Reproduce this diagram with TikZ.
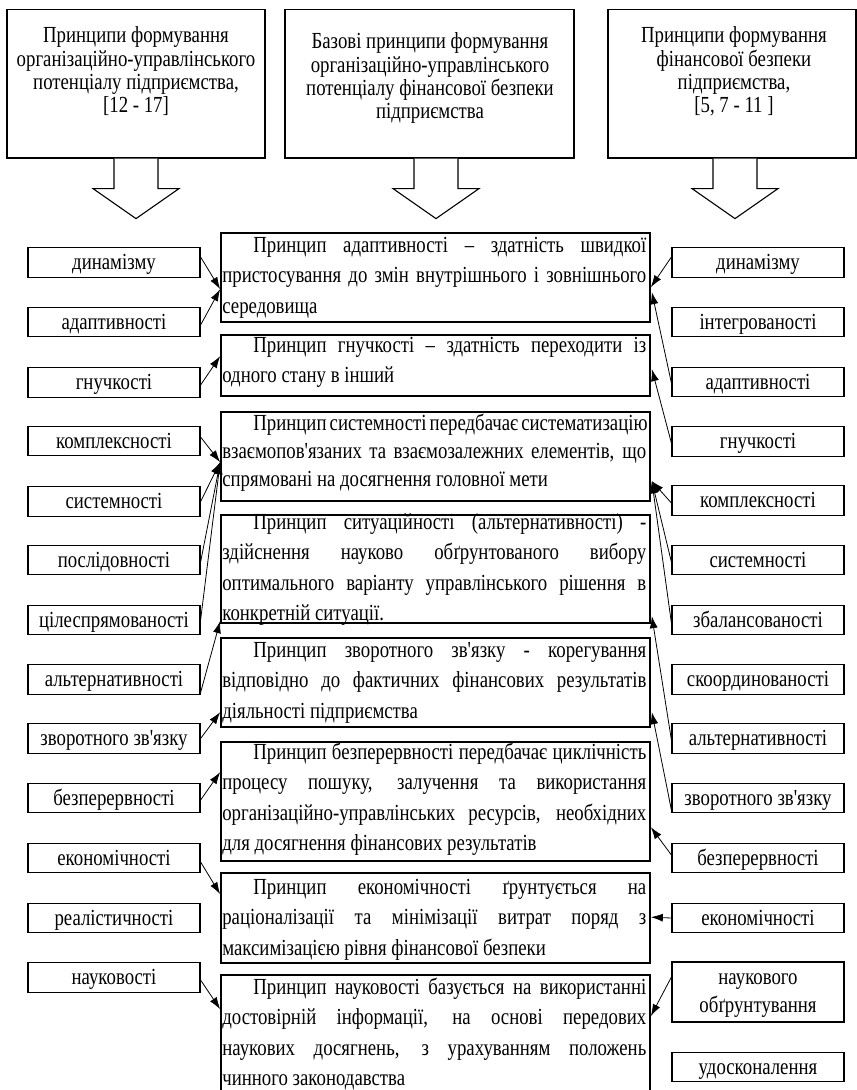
\documentclass[tikz,border=0pt]{standalone}
\usepackage{fontspec}
\setmainfont{Liberation Serif}[FakeStretch=0.817,Ligatures=TeXOff]
\usetikzlibrary{arrows.meta,calc}
\newlength\indw
\setlength\indw{31pt}
\newcommand\firstl[1]{\hspace*{\indw}\makebox[\dimexpr\linewidth-\indw\relax][s]{#1}\\}
\newcommand\justl[1]{\makebox[\linewidth][s]{#1}\\}
\newcommand\conn[3]{\draw[arr] ($(#1)+(0,#2)$) -- (#3);}
\newcommand\blockarrow[2]{%
  \draw[barrow] ($(#1.south)+(#2-22,0)$) -- ($(#1.south)+(#2-22,30)$) -- ($(#1.south)+(#2-43,30)$)
   -- ($(#1.south)+(#2,60)$) -- ($(#1.south)+(#2+43,30)$) -- ($(#1.south)+(#2+22,30)$) -- ($(#1.south)+(#2+22,0)$);}
\newcommand\bodyfont{\fontsize{23}{30.5}\selectfont}
\begin{document}
\begin{tikzpicture}[x=1pt,y=-1pt,
  topbox/.style={draw,line width=1.2pt,inner sep=0pt},
  mbox/.style={draw,line width=1.7pt,inner sep=0pt,minimum width=429pt},
  sbase/.style={draw,line width=1.2pt,inner sep=0pt,minimum width=172pt,minimum height=29.5pt,font=\fontsize{23}{27}\selectfont},
  sbox/.style={sbase,text height=17pt,text depth=3pt},
  txt/.style={inner sep=0pt,anchor=base west},
  ttxt/.style={inner sep=0pt,anchor=base},
  arr/.style={line width=0.8pt,-{Latex[length=12pt,width=8pt]}},
  barrow/.style={line width=1.1pt,fill=white,line join=miter}
]
\useasboundingbox (0,0) rectangle (857,1090);
\clip (0,0) rectangle (857,1090);

% top boxes
\node[topbox,minimum width=258pt,minimum height=148.5pt] (t1) at (136,83.75) {};
\node[topbox,minimum width=289pt,minimum height=148.5pt] (t2) at (429.5,83.75) {};
\node[topbox,minimum width=248pt,minimum height=148.5pt] (t3) at (732,83.75) {};
\node[ttxt] (tt1) at ($(t1.north)+(0,34)$) {\parbox[t]{254pt}{\centering\fontsize{23}{23.3}\selectfont Принципи формування\\ організаційно-управлінського\\ потенціалу підприємства,\\ {[}12 - 17]}};
\node[ttxt] (tt2) at ($(t2.north)+(0.5,40)$) {\parbox[t]{285pt}{\centering\fontsize{23}{23.3}\selectfont Базові принципи формування\\ організаційно-управлінського\\ потенціалу фінансової безпеки\\ підприємства}};
\node[ttxt] (tt3) at ($(t3.north)+(2,34)$) {\parbox[t]{244pt}{\centering\fontsize{23}{23.3}\selectfont Принципи формування\\ фінансової безпеки\\ підприємства,\\ {[}5, 7 - 11 ]}};
\blockarrow{t1}{0}
\blockarrow{t2}{6.5}
\blockarrow{t3}{3}

% main boxes
\node[mbox,minimum height=89pt] (m1) at (435.5,277.5) {};
\node[mbox,minimum height=61pt] (m2) at (435.5,365.5) {};
\node[mbox,minimum height=89pt] (m3) at (435.5,456.5) {};
\node[mbox,minimum height=108pt] (m4) at (435.5,569) {};
\node[mbox,minimum height=89pt] (m5) at (435.5,682.5) {};
\node[mbox,minimum height=119pt] (m6) at (435.5,801.5) {};
\node[mbox,minimum height=90pt] (m7) at (435.5,918) {};
\node[mbox,minimum height=125pt] (m8) at (435.5,1037.5) {};

\node[txt] (x1) at ($(m1.north west)+(2,20)$) {\parbox[t]{424pt}{\bodyfont
\firstl{Принцип адаптивності – здатність швидкої}
\justl{пристосування до змін внутрішнього і зовнішнього}
середовища}};
\node[txt] (x2) at ($(m2.north west)+(2,18)$) {\parbox[t]{424pt}{\bodyfont
\firstl{Принцип гнучкості – здатність переходити із}
одного стану в інший}};
\node[txt] (x3) at ($(m3.north west)+(2,19)$) {\parbox[t]{424pt}{\fontsize{23}{28}\selectfont
\firstl{Принцип системності передбачає систематизацію}
\justl{взаємопов'язаних та взаємозалежних елементів, що}
спрямовані на досягнення головної мети}};
\node[txt] (x4) at ($(m4.north west)+(2,15)$) {\parbox[t]{424pt}{\bodyfont
\firstl{Принцип ситуаційності (альтернативності) -}
\justl{здійснення науково обґрунтованого вибору}
\justl{оптимального варіанту управлінського рішення в}
конкретній ситуації.}};
\node[txt] (x5) at ($(m5.north west)+(2,20)$) {\parbox[t]{424pt}{\bodyfont
\firstl{Принцип зворотного зв'язку - корегування}
\justl{відповідно до фактичних фінансових результатів}
діяльності підприємства}};
\node[txt] (x6) at ($(m6.north west)+(2,18)$) {\parbox[t]{424pt}{\bodyfont
\firstl{Принцип безперервності передбачає циклічність}
\justl{процесу пошуку, залучення та використання}
\justl{організаційно-управлінських ресурсів, необхідних}
для досягнення фінансових результатів}};
\node[txt] (x7) at ($(m7.north west)+(2,22)$) {\parbox[t]{424pt}{\bodyfont
\firstl{Принцип економічності ґрунтується на}
\justl{раціоналізації та мінімізації витрат поряд з}
максимізацією рівня фінансової безпеки}};
\node[txt] (x8) at ($(m8.north west)+(2,20)$) {\parbox[t]{424pt}{\bodyfont
\firstl{Принцип науковості базується на використанні}
\justl{достовірній інформації, на основі передових}
\justl{наукових досягнень, з урахуванням положень}
чинного законодавства}};

% left boxes
\node[sbox] (l1) at (114,262.5) {динамізму};
\node[sbox] (l2) at (114,322) {адаптивності};
\node[sbox] (l3) at (114,382.5) {гнучкості};
\node[sbox] (l4) at (114,441) {комплексності};
\node[sbox] (l5) at (114,501.5) {системності};
\node[sbox] (l6) at (114,560) {послідовності};
\node[sbox] (l7) at (114,620) {цілеспрямованості};
\node[sbox] (l8) at (114,679.5) {альтернативності};
\node[sbox] (l9) at (114,738.5) {зворотного зв'язку};
\node[sbox] (l10) at (114,798) {безперервності};
\node[sbox] (l11) at (114,858) {економічності};
\node[sbox] (l12) at (114,918) {реалістичності};
\node[sbox] (l13) at (114,977.5) {науковості};

% right boxes
\node[sbox] (r1) at (758,262.5) {динамізму};
\node[sbox] (r2) at (758,322) {інтегрованості};
\node[sbox] (r3) at (758,382) {адаптивності};
\node[sbox] (r4) at (758,441.5) {гнучкості};
\node[sbox] (r5) at (758,500.5) {комплексності};
\node[sbox] (r6) at (758,560) {системності};
\node[sbox] (r7) at (758,620) {збалансованості};
\node[sbox] (r8) at (758,679.5) {скоординованості};
\node[sbox] (r9) at (758,738.5) {альтернативності};
\node[sbox] (r10) at (758,798) {зворотного зв'язку};
\node[sbox] (r11) at (758,858) {безперервності};
\node[sbox] (r12) at (758,918) {економічності};
\node[sbase,minimum height=60pt] (r13) at (758,992) {};
\node[ttxt] (r13t) at ($(r13.north)+(0,23)$) {\parbox[t]{170pt}{\centering\fontsize{23}{28}\selectfont наукового\\ обґрунтування}};
\node[sbox] (r14) at (758,1067) {удосконалення};

% arrow tips on the main boxes
\coordinate (a1) at ($(m1.north west)+(0,57)$);
\coordinate (a2) at ($(m2.north west)+(0,22)$);
\coordinate (a3) at ($(m3.north west)+(0,51)$);
\coordinate (a4) at ($(m4.north west)+(0,107)$);
\coordinate (a5) at ($(m5.north west)+(0,75)$);
\coordinate (a6) at ($(m6.north west)+(0,31)$);
\coordinate (a7) at ($(m7.north west)+(0,22)$);
\coordinate (a8) at ($(m8.north west)+(0,35)$);
\coordinate (b1) at ($(m1.north east)+(0,55)$);
\coordinate (b1b) at ($(m1.north east)+(1,60)$);
\coordinate (b2) at ($(m2.north east)+(1,35)$);
\coordinate (b3) at ($(m3.north east)+(1,70)$);
\coordinate (b4) at ($(m4.north east)+(1,102)$);
\coordinate (b5) at ($(m5.north east)+(1,75)$);
\coordinate (b6) at ($(m6.north east)+(0,86)$);
\coordinate (b7) at ($(m7.north east)+(0,45)$);
\coordinate (b8) at ($(m8.north east)+(0,42)$);

% left connectors
\conn{l1.east}{-5.5}{a1}
\conn{l2.east}{3}{a1}
\conn{l3.east}{2.5}{a2}
\conn{l4.east}{-4}{a3}
\conn{l5.east}{0}{a3}
\conn{l6.east}{2}{a3}
\conn{l7.east}{0}{a3}
\conn{l8.east}{13}{a4}
\conn{l9.east}{0}{a5}
\conn{l10.east}{2}{a6}
\conn{l11.east}{4}{a7}
\conn{l13.east}{2.5}{a8}

% right connectors
\conn{r1.west}{-5.5}{b1}
\conn{r3.west}{1}{b1b}
\conn{r4.west}{1.5}{b2}
\conn{r5.west}{2.5}{b3}
\conn{r6.west}{2}{b3}
\conn{r7.west}{3}{b3}
\conn{r9.west}{1.5}{b4}
\conn{r10.west}{12}{b5}
\conn{r11.west}{-3}{b6}
\conn{r12.west}{0}{b7}
\conn{r13.west}{-15}{b8}
\end{tikzpicture}
\end{document}
